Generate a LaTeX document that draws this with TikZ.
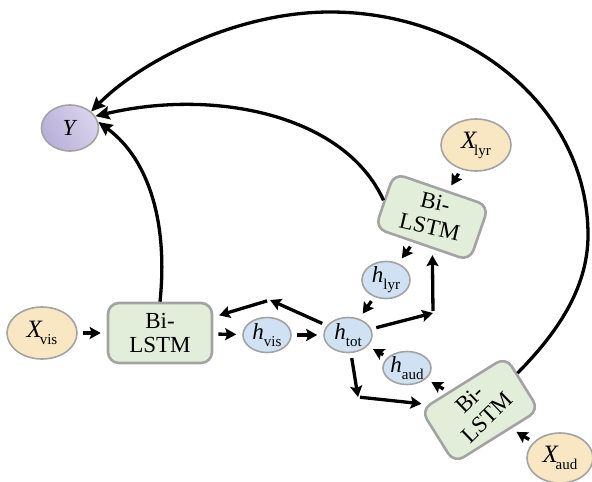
\documentclass[tikz,border=0pt]{standalone}
\usepackage{fontspec}
\setmainfont{Liberation Serif}
\usetikzlibrary{shapes.geometric,arrows.meta,calc}
\definecolor{xfill}{HTML}{F9E6C2}
\definecolor{hfill}{HTML}{CFE1F2}
\definecolor{lfill}{HTML}{E2EEDA}
\definecolor{yfillA}{HTML}{B9B0D9}
\definecolor{yfillB}{HTML}{D9D4EC}
\definecolor{bordergray}{HTML}{A3A3A3}
\newcommand\mysubvar[4][0pt]{{\fontsize{#4}{#4}\selectfont\textit{#2}}\kern#1\raisebox{-7pt}{\fontsize{15}{15}\selectfont #3}}
\newcommand\lstmtext[1]{\rotatebox{#1}{\renewcommand\arraystretch{1.06}\begin{tabular}{@{}c@{}}Bi-\\LSTM\end{tabular}}}
\begin{document}
\begin{tikzpicture}[x=1pt,y=-1pt,
  every node/.style={inner sep=0pt},
  ell/.style={ellipse, draw=bordergray, line width=1.6pt},
  xin/.style={ell, fill=xfill, minimum width=70pt, minimum height=52pt},
  hid/.style={ell, fill=hfill, minimum width=48pt, minimum height=35pt},
  lstm/.style={rectangle, rounded corners=11pt, draw=bordergray, line width=2.6pt, fill=lfill,
    minimum width=104pt, minimum height=60pt, align=center, font=\fontsize{23}{24}\selectfont},
  arr/.style={line width=3.3pt, -{Stealth[length=11pt,width=12pt,inset=2pt]}, shorten <=5pt, shorten >=6pt},
  curve/.style={line width=3.3pt, -{Stealth[length=14pt,width=13pt,inset=2pt]}}]
\useasboundingbox (0,0) rectangle (592,482);

\node[ell, left color=yfillA, right color=yfillB, shading angle=120, minimum width=57pt, minimum height=46pt] (Y) at (70,128) {\fontsize{23}{23}\selectfont\textit{Y}};
\node[xin] (xvis) at (42,333) {\mysubvar[-3pt]{X}{vis}{25}};
\node[lstm] (lvis) at (160,333) {Bi-\\LSTM};
\node[hid] (hvis) at (267,335) {\mysubvar{h}{vis}{23}};
\node[hid] (htot) at (348,335) {\mysubvar{h}{tot}{23}};
\node[hid] (hlyr) at (386,280) {\mysubvar{h}{lyr}{23}};
\node[hid, minimum height=33pt] (haud) at (407,368) {\mysubvar{h}{aud}{23}};
\node[xin] (xlyr) at (476,145) {\mysubvar[-3pt]{X}{lyr}{25}};
\node[lstm, rotate=-19, minimum width=100pt, minimum height=58pt] (llyr) at (432,217) {\lstmtext{6}};
\node[lstm, rotate=32, minimum width=100pt, minimum height=60pt] (laud) at (480,410) {\lstmtext{12}};
\node[xin, minimum width=66pt, minimum height=50pt] (xaud) at (560,458) {\mysubvar[-3pt]{X}{aud}{25}};

\coordinate (k1) at (270,300);
\coordinate (k2) at (433,313);
\coordinate (k3) at (358,397);
\coordinate (arcR) at (588,235);
\coordinate (arcT) at (330,12);

\draw[arr] (xvis) -- (lvis);
\draw[arr] (lvis) -- (hvis);
\draw[arr] (hvis) -- (htot);
\draw[arr, shorten >=0pt] (htot) -- (k1);
\draw[arr, shorten <=3pt] (k1) -- (lvis);
\draw[arr, shorten >=0pt] (htot) -- (k2);
\draw[arr, shorten <=2pt] (k2) -- (llyr);
\draw[arr] (hlyr) -- (htot);
\draw[arr] (llyr) -- (hlyr);
\draw[arr] (xlyr) -- (llyr);
\draw[arr, shorten >=0pt] (htot) -- (k3);
\draw[arr, shorten <=2pt] (k3) -- (laud);
\draw[arr] (haud) -- (htot);
\draw[arr] (laud) -- (haud);
\draw[arr] (xaud) -- (laud);

\draw[curve] (lvis.north) .. controls (168,225) and (150,160) .. (Y.12);
\draw[curve] (llyr.west) .. controls (345,115) and (215,88) .. (Y.25);
\draw[curve] ($(laud.east)!0.35!(laud.north east)$) .. controls (555,335) and (588,290) .. (arcR)
  .. controls (588,110) and (472,12) .. (arcT)
  .. controls (235,12) and (140,62) .. (Y.38);
\end{tikzpicture}
\end{document}
